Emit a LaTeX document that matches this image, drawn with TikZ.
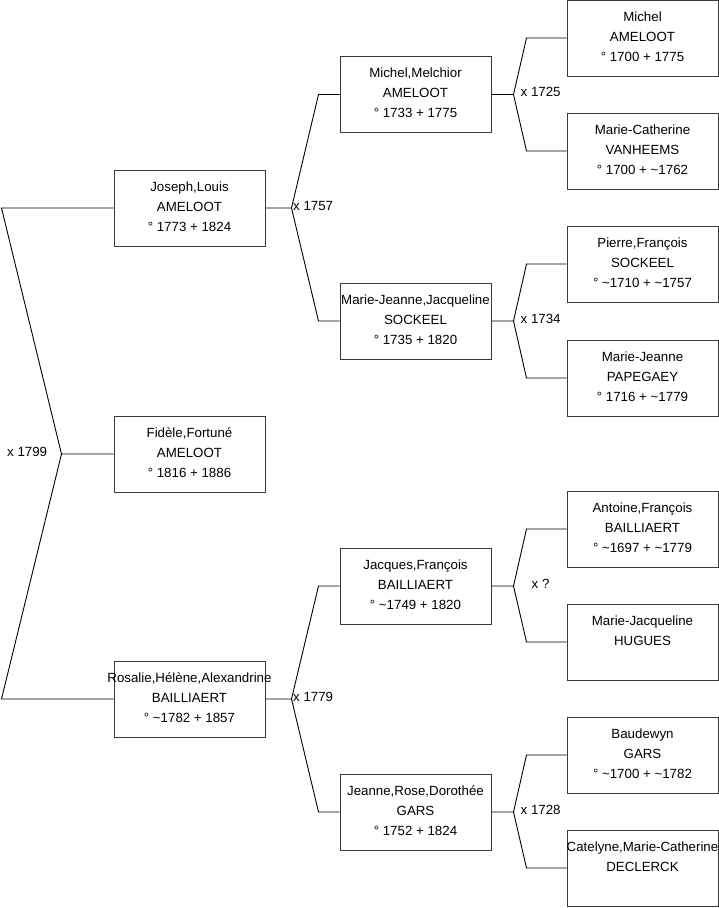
\documentclass[tikz,border=0pt]{standalone}
\usepackage{fontspec}
\setmainfont{Liberation Sans}
\usetikzlibrary{calc}
\definecolor{boxc}{HTML}{3A3A3A}
\newcommand{\pbx}[3]{\parbox[b][76pt][t]{151pt}{\fontsize{13.3}{20}\selectfont\rule{0pt}{21pt}\makebox[151pt]{#1}\\\makebox[151pt]{#2}\\\makebox[151pt]{#3}}}
\begin{document}
\begin{tikzpicture}[x=1pt,y=-1pt,
  person/.style={draw=boxc, inner sep=0pt, line width=1pt, fill=white},
  conn/.style={draw=black, line width=0.9pt},
  lab/.style={font=\fontsize{13.3}{15}\selectfont, inner sep=0pt, anchor=west}]
\useasboundingbox (0,0) rectangle (719,908);
% column 1
\node[person] (J) at (189.5,208) {\pbx{Joseph,Louis}{AMELOOT}{° 1773 + 1824}};
\node[person] (F) at (189.5,454) {\pbx{Fidèle,Fortuné}{AMELOOT}{° 1816 + 1886}};
\node[person] (R) at (189.5,699) {\pbx{Rosalie,Hélène,Alexandrine}{BAILLIAERT}{° \textasciitilde1782 + 1857}};
% column 2
\node[person] (MM) at (415.5,94.5) {\pbx{Michel,Melchior}{AMELOOT}{° 1733 + 1775}};
\node[person] (MJ) at (415.5,321) {\pbx{Marie-Jeanne,Jacqueline}{SOCKEEL}{° 1735 + 1820}};
\node[person] (JF) at (415.5,586) {\pbx{Jacques,François}{BAILLIAERT}{° \textasciitilde1749 + 1820}};
\node[person] (JR) at (415.5,812) {\pbx{Jeanne,Rose,Dorothée}{GARS}{° 1752 + 1824}};
% column 3
\node[person] (A1) at (642.5,38) {\pbx{Michel}{AMELOOT}{° 1700 + 1775}};
\node[person] (A2) at (642.5,151) {\pbx{Marie-Catherine}{VANHEEMS}{° 1700 + \textasciitilde1762}};
\node[person] (A3) at (642.5,264) {\pbx{Pierre,François}{SOCKEEL}{° \textasciitilde1710 + \textasciitilde1757}};
\node[person] (A4) at (642.5,378) {\pbx{Marie-Jeanne}{PAPEGAEY}{° 1716 + \textasciitilde1779}};
\node[person] (A5) at (642.5,529) {\pbx{Antoine,François}{BAILLIAERT}{° \textasciitilde1697 + \textasciitilde1779}};
\node[person] (A6) at (642.5,642) {\pbx{Marie-Jacqueline}{HUGUES}{}};
\node[person] (A7) at (642.5,755) {\pbx{Baudewyn}{GARS}{° \textasciitilde1700 + \textasciitilde1782}};
\node[person] (A8) at (642.5,868) {\pbx{Catelyne,Marie-Catherine}{DECLERCK}{}};
% forks
\coordinate (f0) at ([xshift=-52pt]F.west);
\coordinate (fJ) at ([xshift=26pt]J.east);
\coordinate (fR) at ([xshift=26pt]R.east);
\coordinate (fMM) at ([xshift=22pt]MM.east);
\coordinate (fMJ) at ([xshift=22pt]MJ.east);
\coordinate (fJF) at ([xshift=22pt]JF.east);
\coordinate (fJR) at ([xshift=22pt]JR.east);
% root
\draw[conn] (F.west) -- (f0) -- ([xshift=-112pt]J.west) -- (J.west);
\draw[conn] (f0) -- ([xshift=-112pt]R.west) -- (R.west);
% column 1 to 2
\draw[conn] (J.east) -- (fJ) -- ([xshift=-21pt]MM.west) -- (MM.west);
\draw[conn] (fJ) -- ([xshift=-21pt]MJ.west) -- (MJ.west);
\draw[conn] (R.east) -- (fR) -- ([xshift=-21pt]JF.west) -- (JF.west);
\draw[conn] (fR) -- ([xshift=-21pt]JR.west) -- (JR.west);
% column 2 to 3
\draw[conn] (MM.east) -- (fMM) -- ([xshift=-40pt]A1.west) -- (A1.west);
\draw[conn] (fMM) -- ([xshift=-40pt]A2.west) -- (A2.west);
\draw[conn] (MJ.east) -- (fMJ) -- ([xshift=-40pt]A3.west) -- (A3.west);
\draw[conn] (fMJ) -- ([xshift=-40pt]A4.west) -- (A4.west);
\draw[conn] (JF.east) -- (fJF) -- ([xshift=-40pt]A5.west) -- (A5.west);
\draw[conn] (fJF) -- ([xshift=-40pt]A6.west) -- (A6.west);
\draw[conn] (JR.east) -- (fJR) -- ([xshift=-40pt]A7.west) -- (A7.west);
\draw[conn] (fJR) -- ([xshift=-40pt]A8.west) -- (A8.west);
% labels
\node[lab] (l0) at (7,452) {x 1799};
\node[lab] (lJ) at ([shift={(1.5,-2)}]fJ) {x 1757};
\node[lab] (lR) at ([shift={(1.5,-2)}]fR) {x 1779};
\node[lab] (lMM) at ([shift={(7,-3)}]fMM) {x 1725};
\node[lab] (lMJ) at ([shift={(7,-2)}]fMJ) {x 1734};
\node[lab] (lJF) at ([shift={(18,-2)}]fJF) {x ?};
\node[lab] (lJR) at ([shift={(7,-2)}]fJR) {x 1728};
\end{tikzpicture}
\end{document}
